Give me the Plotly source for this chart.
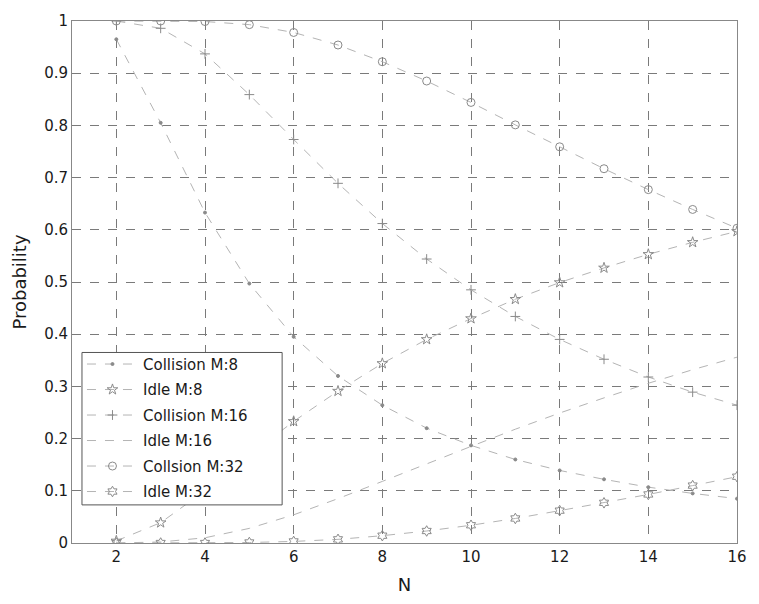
import plotly.graph_objects as go

# Number of slots N
n_slots = [2, 3, 4, 5, 6, 7, 8, 9, 10, 11, 12, 13, 14, 15, 16]

# Slot-state probabilities for M tags
collision_m8 = [0.965, 0.805, 0.633, 0.497, 0.395, 0.320, 0.264, 0.220, 0.187,
                0.160, 0.139, 0.122, 0.107, 0.095, 0.085]
idle_m8 = [0.004, 0.039, 0.100, 0.168, 0.233, 0.291, 0.344, 0.390, 0.430,
           0.467, 0.499, 0.527, 0.553, 0.576, 0.597]
collision_m16 = [1.000, 0.986, 0.937, 0.859, 0.773, 0.689, 0.612, 0.544, 0.485,
                 0.434, 0.390, 0.352, 0.318, 0.289, 0.264]
idle_m16 = [0.000, 0.002, 0.010, 0.028, 0.054, 0.085, 0.118, 0.152, 0.185,
            0.218, 0.249, 0.278, 0.306, 0.332, 0.356]
collision_m32 = [1.000, 1.000, 0.999, 0.993, 0.978, 0.954, 0.922, 0.885, 0.844,
                 0.801, 0.759, 0.717, 0.677, 0.639, 0.603]
idle_m32 = [0.000, 0.000, 0.000, 0.001, 0.003, 0.007, 0.014, 0.023, 0.034,
            0.047, 0.062, 0.077, 0.093, 0.110, 0.127]

x_ticks = [2, 4, 6, 8, 10, 12, 14, 16]
y_ticks = [0, 0.1, 0.2, 0.3, 0.4, 0.5, 0.6, 0.7, 0.8, 0.9, 1]
y_tick_text = ["0", "0.1", "0.2", "0.3", "0.4", "0.5", "0.6", "0.7", "0.8", "0.9", "1"]

series = [
    ("Collision M:8", collision_m8, "circle", 3),
    ("Idle M:8", idle_m8, "star-open", 8),
    ("Collision M:16", collision_m16, "cross-thin-open", 7),
    ("Idle M:16", idle_m16, None, 0),
    ("Collsion M:32", collision_m32, "circle-open", 8),
    ("Idle M:32", idle_m32, "hexagram-open", 8),
]

line_col = "#b4b4b4"
mark_col = "#8a8a8a"
text_col = "#1a1a1a"
face = "DejaVu Sans, Liberation Sans, Arial, sans-serif"

fig = go.Figure()
for i, (name, vals, sym, size) in enumerate(series):
    kw = dict(mode="lines")
    if sym:
        kw = dict(mode="lines+markers",
                  marker=dict(symbol=sym, size=size, color=mark_col,
                              line=dict(color=mark_col, width=1)))
    fig.add_trace(go.Scatter(
        x=n_slots, y=vals, name=name, legendgroup=f"g{i}",
        line=dict(color=line_col, width=1, dash="dash"), **kw))

grid_col = "#7a7a7a"
fig.update_layout(
    width=759, height=604,
    margin=dict(l=72, r=14, t=15, b=58),
    paper_bgcolor="white", plot_bgcolor="white",
    font=dict(family=face, size=15, color=text_col),
    showlegend=True,
    legend=dict(x=0.015, y=0.374, xanchor="left", yanchor="top",
                bgcolor="rgba(0,0,0,0)", borderwidth=0, tracegroupgap=3,
                font=dict(family=face, size=15, color=text_col), itemwidth=51),
    xaxis=dict(range=[1, 16], tickvals=x_ticks, ticks="", showgrid=True,
               gridcolor=grid_col, griddash="dash", gridwidth=1,
               showline=True, linecolor="#888", linewidth=1, mirror=True,
               zeroline=False, title=dict(text="N", standoff=13),
               tickfont=dict(family=face, size=15, color=text_col)),
    yaxis=dict(range=[0, 1], tickvals=y_ticks, ticktext=y_tick_text, ticks="",
               showgrid=True, gridcolor=grid_col, griddash="dash", gridwidth=1,
               showline=True, linecolor="#888", linewidth=1, mirror=True,
               zeroline=False, title=dict(text="Probability", standoff=12),
               tickfont=dict(family=face, size=15, color=text_col)),
)

# Opaque legend panel drawn over the curves and grid
fig.add_shape(type="rect", xref="paper", yref="paper",
              x0=0.015, x1=0.316, y0=0.073, y1=0.365,
              line=dict(color="#555", width=1), fillcolor="white",
              layer="above")

fig.write_html("out.html")
